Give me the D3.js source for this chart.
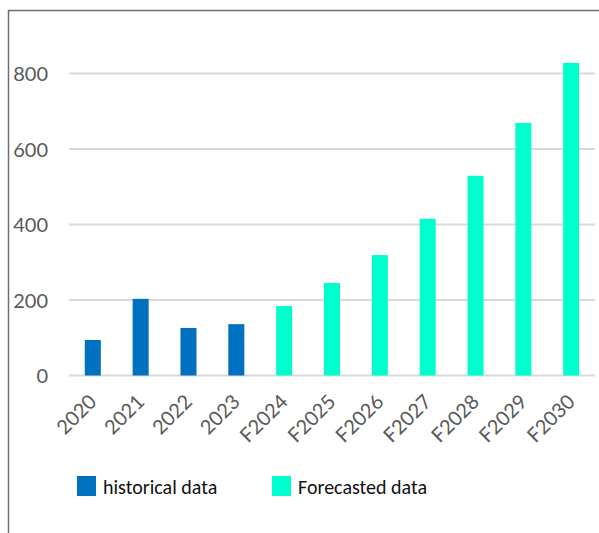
<!DOCTYPE html>
<html><head><meta charset="utf-8">
<script src="https://cdn.jsdelivr.net/npm/d3@7"></script>
<style>body{margin:0;background:#fff}svg{display:block}</style>
</head><body>
<script>
const categories = ["2020","2021","2022","2023","F2024","F2025","F2026","F2027","F2028","F2029","F2030"];
const values = [94,203,126,136,184,245,319,415,529,669,828];
const seriesType = ["historical","historical","historical","historical","forecast","forecast","forecast","forecast","forecast","forecast","forecast"];
const seriesNames = ["historical data","Forecasted data"];
const seriesColors = ["#0070C0","#00FFCC"];
const yTicks = [0,200,400,600,800];

const W=599,H=533;
const svg=d3.select("body").append("svg").attr("width",W).attr("height",H);

// frame
svg.append("path").attr("d","M8.5,533 V10.5 H599").attr("fill","none").attr("stroke","#6e6e6e").attr("stroke-width",1.5);

const x=d3.scaleBand().domain(categories).range([69,595]).paddingInner(0.665).paddingOuter(0.33);
const y=d3.scaleLinear().domain([0,900]).range([375.5,35.75]);

// grid
svg.append("g").selectAll("line").data(yTicks).join("line")
  .attr("x1",69).attr("x2",595).attr("y1",d=>y(d)).attr("y2",d=>y(d))
  .attr("stroke","#d9d9d9").attr("stroke-width",2);

// y labels
const yAxis=d3.axisLeft(y).tickValues(yTicks).tickSize(0).tickPadding(0);
const gy=svg.append("g").attr("transform","translate(48,0)").call(yAxis);
gy.select(".domain").remove();
gy.selectAll("text").attr("font-family","Lato").attr("font-size",20).attr("fill","#595959").attr("dy","0.35em");

// bars
const colorOf=t=>t==="historical"?seriesColors[0]:seriesColors[1];
svg.append("g").selectAll("rect").data(categories).join("rect")
  .attr("x",d=>x(d)).attr("width",x.bandwidth())
  .attr("y",(d,i)=>y(values[i])).attr("height",(d,i)=>y(0)-y(values[i]))
  .attr("fill",(d,i)=>colorOf(seriesType[i]));

// x labels
const xAxis=d3.axisBottom(x).tickSize(0).tickPadding(0);
const gx=svg.append("g").attr("transform","translate(0,403)").call(xAxis);
gx.select(".domain").remove();
gx.selectAll("text").attr("font-family","Lato").attr("font-size",20).attr("fill","#595959")
  .attr("text-anchor","end").attr("dy","0").attr("y",0)
  .attr("transform","translate(5,0) rotate(-45)");

// legend
const legX=[77,272];
const lg=svg.append("g").selectAll("g").data(seriesNames).join("g")
  .attr("transform",(d,i)=>`translate(${legX[i]},476)`);
lg.append("rect").attr("width",19).attr("height",20).attr("fill",(d,i)=>seriesColors[i]);
lg.append("text").attr("x",26).attr("y",18).attr("font-family","Carlito, Lato").attr("font-size",20).attr("fill","#111").text(d=>d);
</script>
</body></html>
